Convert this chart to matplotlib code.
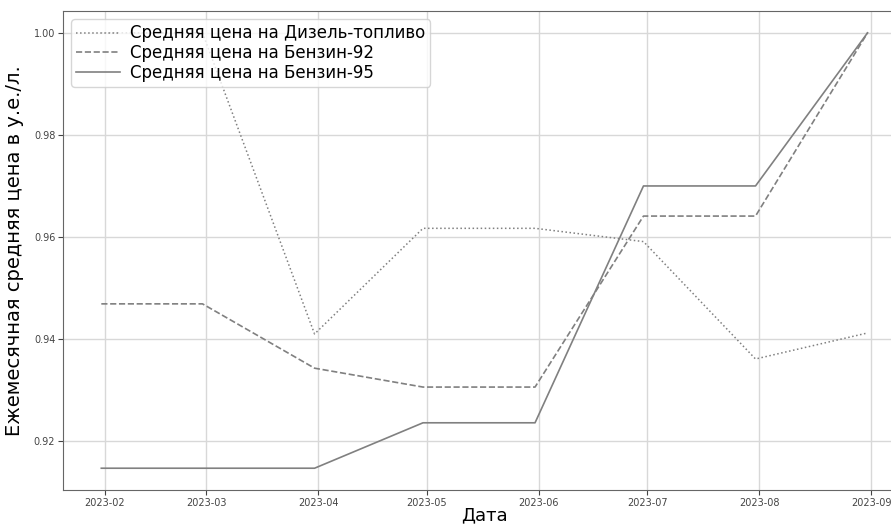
import matplotlib
matplotlib.use("Agg")
import matplotlib.pyplot as plt
import matplotlib.dates as mdates
import pandas as pd

dates = pd.to_datetime(["2023-01-31", "2023-02-28", "2023-03-31", "2023-04-30",
                        "2023-05-31", "2023-06-30", "2023-07-31", "2023-08-31"])
diesel = [1.0, 1.0, 0.9410, 0.9617, 0.9617, 0.9591, 0.9361, 0.9412]
ai92 = [0.9469, 0.9469, 0.9343, 0.9306, 0.9306, 0.9641, 0.9641, 1.0]
ai95 = [0.9147, 0.9147, 0.9147, 0.9236, 0.9236, 0.9700, 0.9700, 1.0]
labels = ["Средняя цена на Дизель-топливо", "Средняя цена на Бензин-92",
          "Средняя цена на Бензин-95"]

fig = plt.figure(figsize=(8.91, 5.24), dpi=100)
ax = fig.add_axes([0.0707, 0.0649, 0.946, 0.914])
ax.plot(dates, diesel, linestyle=":", color="gray", linewidth=1.1, label=labels[0])
ax.plot(dates, ai92, linestyle="--", color="gray", linewidth=1.2, label=labels[1])
ax.plot(dates, ai95, linestyle="-", color="gray", linewidth=1.2, label=labels[2])

ax.xaxis.set_major_locator(mdates.MonthLocator())
ax.xaxis.set_major_formatter(mdates.DateFormatter("%Y-%m"))
ax.tick_params(axis="both", labelsize=7, colors="#444444", pad=2)
ax.grid(True, color="#d8d8d8", linewidth=1)
ax.set_xlabel("Дата", fontsize=13, labelpad=-1)
ax.set_ylabel("Ежемесячная средняя цена в у.е./л.", fontsize=14, labelpad=7)
for s in ax.spines.values():
    s.set_color("#666666")
ax.spines["right"].set_visible(False)
ax.legend(loc="upper left", fontsize=12, handlelength=2.6, handletextpad=0.6,
          labelspacing=0.1, borderpad=0.3, borderaxespad=0.5)
fig.savefig("out.png", dpi=100)
